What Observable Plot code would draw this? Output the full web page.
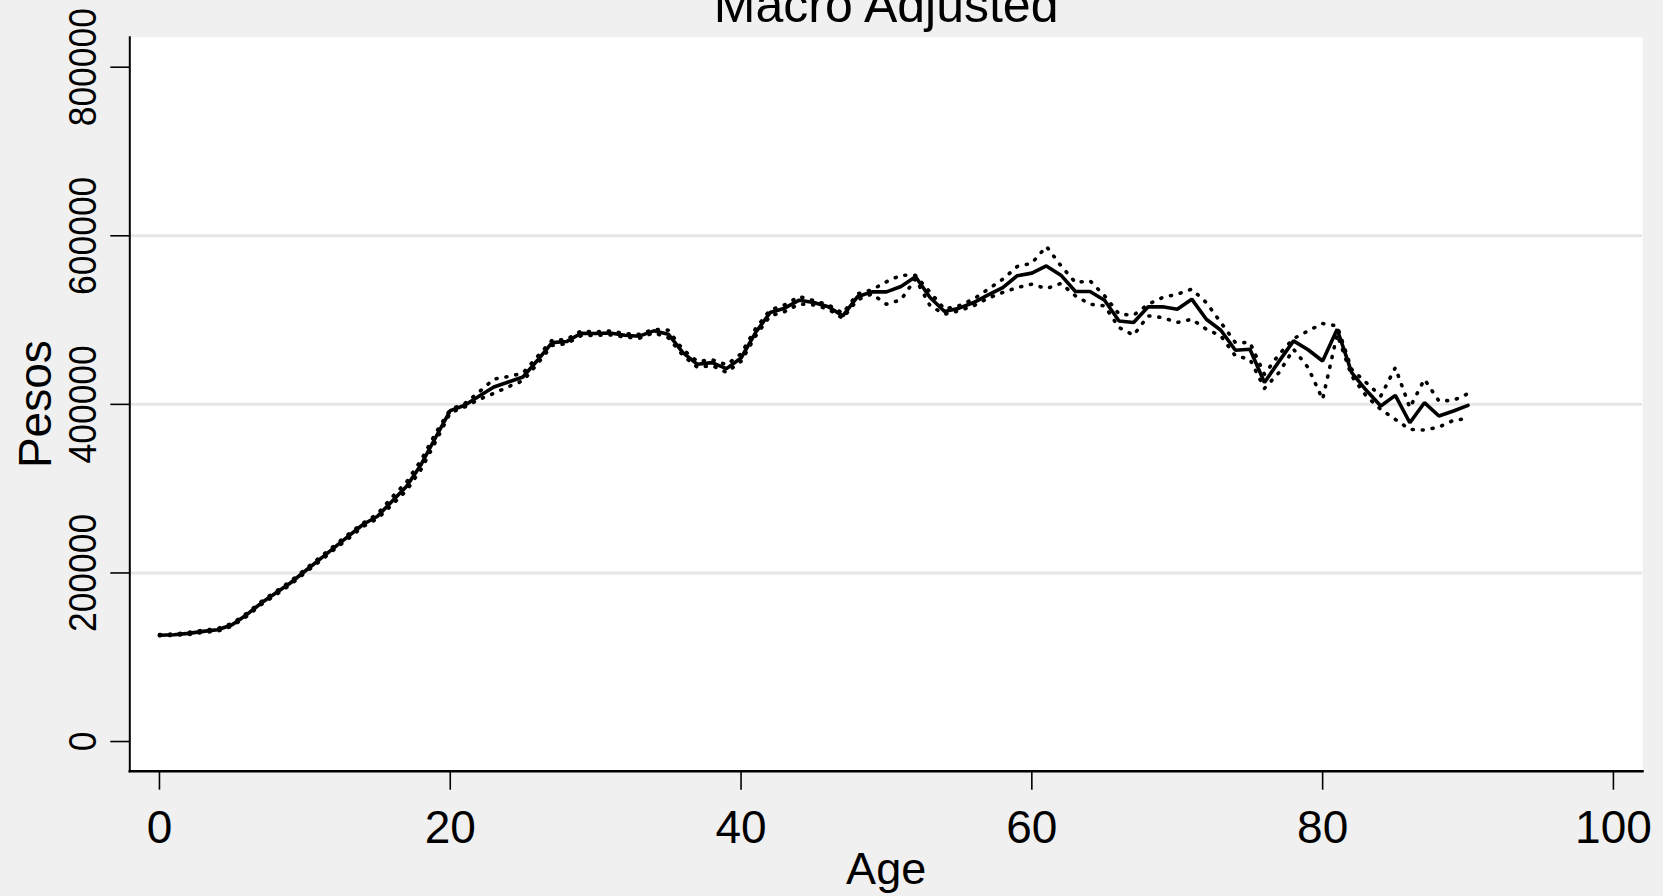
<!DOCTYPE html>
<html>
<head>
<meta charset="utf-8">
<script src="https://cdn.jsdelivr.net/npm/d3@7"></script>
<script src="https://cdn.jsdelivr.net/npm/@observablehq/plot@0.6"></script>
<style>
  html, body { margin: 0; padding: 0; background: #f0f0f0; }
  #chart { width: 1663px; height: 896px; overflow: hidden; }
</style>
</head>
<body>
<div id="chart"></div>
<script>
const title = "Macro Adjusted";
const xLabel = "Age";
const yLabel = "Pesos";
const xTicks = [0, 20, 40, 60, 80, 100];
const yTicks = [0, 200000, 400000, 600000, 800000];
const gridTicks = [200000, 400000, 600000];

const ages = [
   0,  1,  2,  3,  4,  5,  6,  7,  8,  9,
  10, 11, 12, 13, 14, 15, 16, 17, 18, 19,
  20, 21, 22, 23, 24, 25, 26, 27, 28, 29,
  30, 31, 32, 33, 34, 35, 36, 37, 38, 39,
  40, 41, 42, 43, 44, 45, 46, 47, 48, 49,
  50, 51, 52, 53, 54, 55, 56, 57, 58, 59,
  60, 61, 62, 63, 64, 65, 66, 67, 68, 69,
  70, 71, 72, 73, 74, 75, 76, 77, 78, 79,
  80, 81, 82, 83, 84, 85, 86, 87, 88, 89,
  90
];

const estimate = [
  126000, 126700, 128300, 130700, 132700, 138600, 150500, 164300, 176200, 188100,
  202000, 215900, 229700, 243600, 257500, 267300, 285200, 303000, 328700, 361000,
  392500, 399000, 410000, 420600, 426600, 432500, 452300, 473300, 474500, 484400,
  484000, 484700, 482000, 480900, 487200, 483200, 461400, 447500, 449500, 442400,
  455000, 485200, 508900, 514100, 523600, 520800, 515700, 505000, 527600, 533500,
  533500, 539800, 551300, 526800, 510100, 514100, 520800, 529900, 538600, 552700,
  555700, 564200, 553300, 533900, 533900, 523600, 499000, 497100, 515700, 515700,
  512900, 524800, 501000, 488000, 464200, 465400, 426000, 451000, 475300, 464800,
  451500, 489100, 437700, 416700, 398000, 410700, 378200, 402000, 386200, 392100,
  398800
];

const upper = [
  127000, 127500, 129500, 132000, 134000, 140000, 152000, 166000, 178000, 190000,
  204000, 218000, 232000, 246000, 259000, 270000, 290000, 308000, 334000, 366000,
  394000, 401000, 415000, 430000, 433000, 437000, 457000, 476000, 477000, 487000,
  486000, 487000, 484000, 483000, 489000, 488000, 465000, 451000, 453000, 447000,
  460000, 490000, 512000, 518000, 528000, 523000, 518000, 508000, 531000, 536000,
  545400, 553300, 553000, 533000, 513000, 517000, 525000, 536700, 548500, 563600,
  567500, 587400, 564400, 544600, 546600, 528800, 507000, 505800, 518800, 526800,
  530700, 536700, 520800, 497100, 473300, 473300, 435700, 459400, 478000, 487200,
  495900, 493100, 441600, 425800, 409900, 443600, 396100, 429700, 404000, 404800,
  412700
];

const lower = [
  125500, 126000, 127000, 129500, 131000, 137000, 148500, 162500, 174000, 186000,
  200000, 213500, 227500, 241000, 255000, 264500, 281000, 298000, 323000, 356000,
  390000, 397000, 406000, 413000, 421000, 428000, 448000, 470000, 472000, 481500,
  482000, 482500, 480000, 478500, 485000, 479000, 458000, 444000, 446000, 438000,
  451000, 481000, 505000, 510000, 519000, 518000, 513000, 502000, 524000, 531000,
  518800, 524000, 549000, 517000, 507000, 511000, 517000, 526000, 532700, 538600,
  542600, 537400, 543400, 528800, 518800, 516900, 491100, 482000, 505000, 503000,
  497100, 501000, 489100, 481200, 457500, 453500, 419000, 437700, 465400, 443600,
  406000, 483000, 433700, 409900, 394100, 382200, 370300, 369500, 373100, 381000,
  383400
];

const xDomain = [-2.04, 102.0];
const yDomain = [-35200, 835600];

const rows = ages.map((a, i) => ({age: a, est: estimate[i], hi: upper[i], lo: lower[i]}));

const font = "'Liberation Sans', Arial, Helvetica, sans-serif";

const chart = Plot.plot({
  width: 1663,
  height: 896,
  marginLeft: 129.3,
  marginRight: 21,
  marginTop: 36.7,
  marginBottom: 125.3,
  style: {background: "transparent", fontFamily: font, color: "black"},
  x: {domain: xDomain},
  y: {domain: yDomain},
  marks: [
    Plot.frame({fill: "white", stroke: null}),
    Plot.gridY(gridTicks, {stroke: "#e6e6e6", strokeOpacity: 1, strokeWidth: 3}),
    Plot.frame({anchor: "left", stroke: "black", strokeWidth: 2}),
    Plot.frame({anchor: "bottom", stroke: "black", strokeWidth: 2.5}),
    Plot.axisX({ticks: xTicks, tickSize: 19, tickFormat: () => "", label: null, stroke: "black", strokeWidth: 1.6}),
    Plot.axisY({ticks: yTicks, tickSize: 19, tickFormat: () => "", label: null, stroke: "black", strokeWidth: 1.6}),
    Plot.text(xTicks, {x: d => d, text: d => String(d), frameAnchor: "bottom", dy: 71.3, lineAnchor: "bottom", fontSize: 46, fill: "black"}),
    Plot.text(yTicks, {y: d => d, text: d => String(d), frameAnchor: "left", dx: -34.3, rotate: -90, lineAnchor: "bottom", textAnchor: "middle", fontSize: 39, fill: "black"}),
    Plot.text([xLabel], {frameAnchor: "bottom", dy: 112.3, lineAnchor: "bottom", textAnchor: "middle", fontSize: 45, fill: "black"}),
    Plot.text([yLabel], {frameAnchor: "left", dx: -79.3, rotate: -90, lineAnchor: "bottom", textAnchor: "middle", fontSize: 46, fill: "black"}),
    Plot.text([title], {frameAnchor: "top", dy: -15, lineAnchor: "bottom", textAnchor: "middle", fontSize: 50, fill: "black"}),
    Plot.line(rows, {x: "age", y: "hi", stroke: "black", strokeWidth: 3.6, strokeDasharray: "1 9", strokeLinecap: "round"}),
    Plot.line(rows, {x: "age", y: "lo", stroke: "black", strokeWidth: 3.6, strokeDasharray: "1 9", strokeLinecap: "round"}),
    Plot.line(rows, {x: "age", y: "est", stroke: "black", strokeWidth: 3.6, strokeLinejoin: "miter"})
  ]
});

document.getElementById("chart").appendChild(chart);

// condense the y tick labels horizontally (as in the reference rendering)
const ySet = new Set(yTicks.map(String));
chart.querySelectorAll("text").forEach(t => {
  const s = t.textContent;
  if (ySet.has(s) && /rotate/.test(t.getAttribute("transform") || "")) {
    t.setAttribute("textLength", (19.7 * s.length).toFixed(1));
    t.setAttribute("lengthAdjust", "spacingAndGlyphs");
  }
});
</script>
</body>
</html>
